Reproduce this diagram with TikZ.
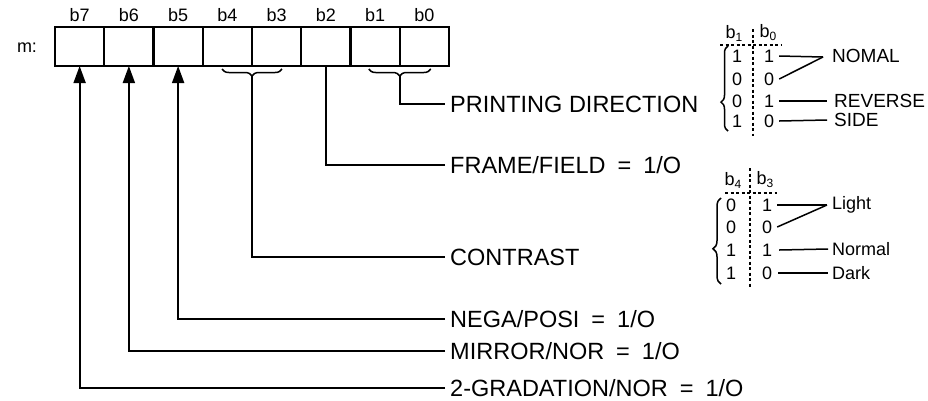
\documentclass[tikz,border=0pt]{standalone}
\usepackage{fontspec}
\setmainfont{Liberation Sans}
\usetikzlibrary{arrows.meta,decorations.pathreplacing,calc}
\newcommand{\eqgap}{\hspace{12pt}=\hspace{12pt}}
\begin{document}
\begin{tikzpicture}[x=1pt,y=-1pt,
  cell/.style={draw,line width=2.2pt,minimum width=49.25pt,minimum height=39pt,inner sep=0pt,outer sep=0pt},
  conn/.style={line width=1.8pt},
  upar/.style={conn,-{Triangle[length=17pt,width=12pt]}},
  lbl/.style={anchor=west,inner sep=0pt,font=\fontsize{23.5}{25}\selectfont},
  bitlbl/.style={inner sep=0pt,font=\fontsize{18}{20}\selectfont},
  dig/.style={inner sep=0pt,font=\fontsize{18}{20}\selectfont},
  res/.style={anchor=west,inner sep=0pt,font=\fontsize{19}{21}\selectfont},
  res2/.style={anchor=west,inner sep=0pt,font=\fontsize{18}{20}\selectfont},
  tline/.style={line width=1.5pt},
  dsh/.style={line width=1.3pt,dash pattern=on 3pt off 2.5pt},
  brc/.style={line width=1.5pt,decorate,decoration={brace,amplitude=7pt}}
]
\useasboundingbox (0,0) rectangle (928,400);
% register cells
\foreach \i in {7,...,0}{
  \pgfmathsetmacro\cx{55+49.25*(7.5-\i)}
  \node[cell] (c\i) at (\cx,46.5) {};
  \node[bitlbl] (b\i) at (\cx,15) {b\i};
}
\node[bitlbl] (m) at (27,48) {m:};
% labels
\node[lbl] (lpd) at (450,104) {PRINTING DIRECTION};
\node[lbl] (lff) at (450,165) {FRAME/FIELD\eqgap 1/O};
\node[lbl] (lct) at (450,257) {CONTRAST};
\node[lbl] (lnp) at (450,319) {NEGA/POSI\eqgap 1/O};
\node[lbl] (lmn) at (450,351) {MIRROR/NOR\eqgap 1/O};
\node[lbl] (lgr) at (450,388) {2-GRADATION/NOR\eqgap 1/O};
% arrows from labels to bits
\draw[upar,shorten <=5pt] (lgr.west) -| (c7.south);
\draw[upar,shorten <=5pt] (lmn.west) -| (c6.south);
\draw[upar,shorten <=5pt] (lnp.west) -| (c5.south);
\draw[conn,shorten <=5pt] (lff.west) -| (c2.south);
% braces under bits
\draw[brc,decoration={amplitude=7pt}] ($(c3.south west)+(30,3)$) -- ($(c3.south west)+(-30,3)$);
\coordinate (t43) at ($(c3.south west)+(0,10)$);
\draw[conn] (t43) |- ([xshift=-5pt]lct.west);
\draw[brc,decoration={amplitude=7pt}] ($(c0.south west)+(31,3)$) -- ($(c0.south west)+(-31,3)$);
\coordinate (t10) at ($(c0.south west)+(0,10)$);
\draw[conn] (t10) |- ([xshift=-5pt]lpd.west);
% table 1: printing direction
\node[dig] (h1) at (734,33) {b\raisebox{-3pt}{\fontsize{12}{12}\selectfont 1}};
\node[dig] (h0) at (768,33) {b\raisebox{-3pt}{\fontsize{12}{12}\selectfont 0}};
\draw[dsh] (720,45) -- (781,45);
\draw[dsh] (753,29) -- (753,136);
\node[dig] (p11) at (737,56) {1}; \node[dig] (p12) at (769,56) {1};
\node[dig] (p21) at (737,79) {0}; \node[dig] (p22) at (769,79) {0};
\node[dig] (p31) at (737,101) {0}; \node[dig] (p32) at (769,101) {1};
\node[dig] (p41) at (737,121) {1}; \node[dig] (p42) at (769,121) {0};
\node[res] (rnom) at (832,56) {NOMAL};
\node[res] (rrev) at (834,101) {REVERSE};
\node[res] (rside) at (834,120) {SIDE};
\coordinate (jn) at (823,57);
\draw[tline] ([xshift=5pt]p12.east) -- (jn);
\draw[tline] ([xshift=5pt]p22.east) -- (jn);
\draw[tline] ([xshift=5pt]p32.east) -- ([xshift=-7pt]rrev.west);
\draw[tline] ([xshift=5pt]p42.east) -- ([xshift=-7pt]rside.west);
\draw[brc,decoration={amplitude=7pt,aspect=0.34}] (728,131) -- (728,46);
% table 2: contrast
\node[dig] (h4) at (733,180) {b\raisebox{-3pt}{\fontsize{12}{12}\selectfont 4}};
\node[dig] (h3) at (765,180) {b\raisebox{-3pt}{\fontsize{12}{12}\selectfont 3}};
\draw[dsh] (725,193) -- (777,193);
\draw[dsh] (750,168) -- (750,288);
\node[dig] (q11) at (731,205) {0}; \node[dig] (q12) at (767,205) {1};
\node[dig] (q21) at (731,227) {0}; \node[dig] (q22) at (767,227) {0};
\node[dig] (q31) at (731,250) {1}; \node[dig] (q32) at (767,250) {1};
\node[dig] (q41) at (731,273) {1}; \node[dig] (q42) at (767,273) {0};
\node[res2] (rli) at (832,205) {Light};
\node[res2] (rno) at (832,249) {Normal};
\node[res2] (rda) at (832,273) {Dark};
\coordinate (jl) at (827,205);
\draw[tline] ([xshift=5pt]q12.east) -- (jl);
\draw[tline] ([xshift=5pt]q22.east) -- (jl);
\draw[tline] ([xshift=7pt]q32.east) -- ([xshift=-4pt]rno.west);
\draw[tline] ([xshift=6pt]q42.east) -- ([xshift=-4pt]rda.west);
\draw[brc,decoration={amplitude=8pt,aspect=0.41}] (721,284) -- (721,198);
\end{tikzpicture}
\end{document}
